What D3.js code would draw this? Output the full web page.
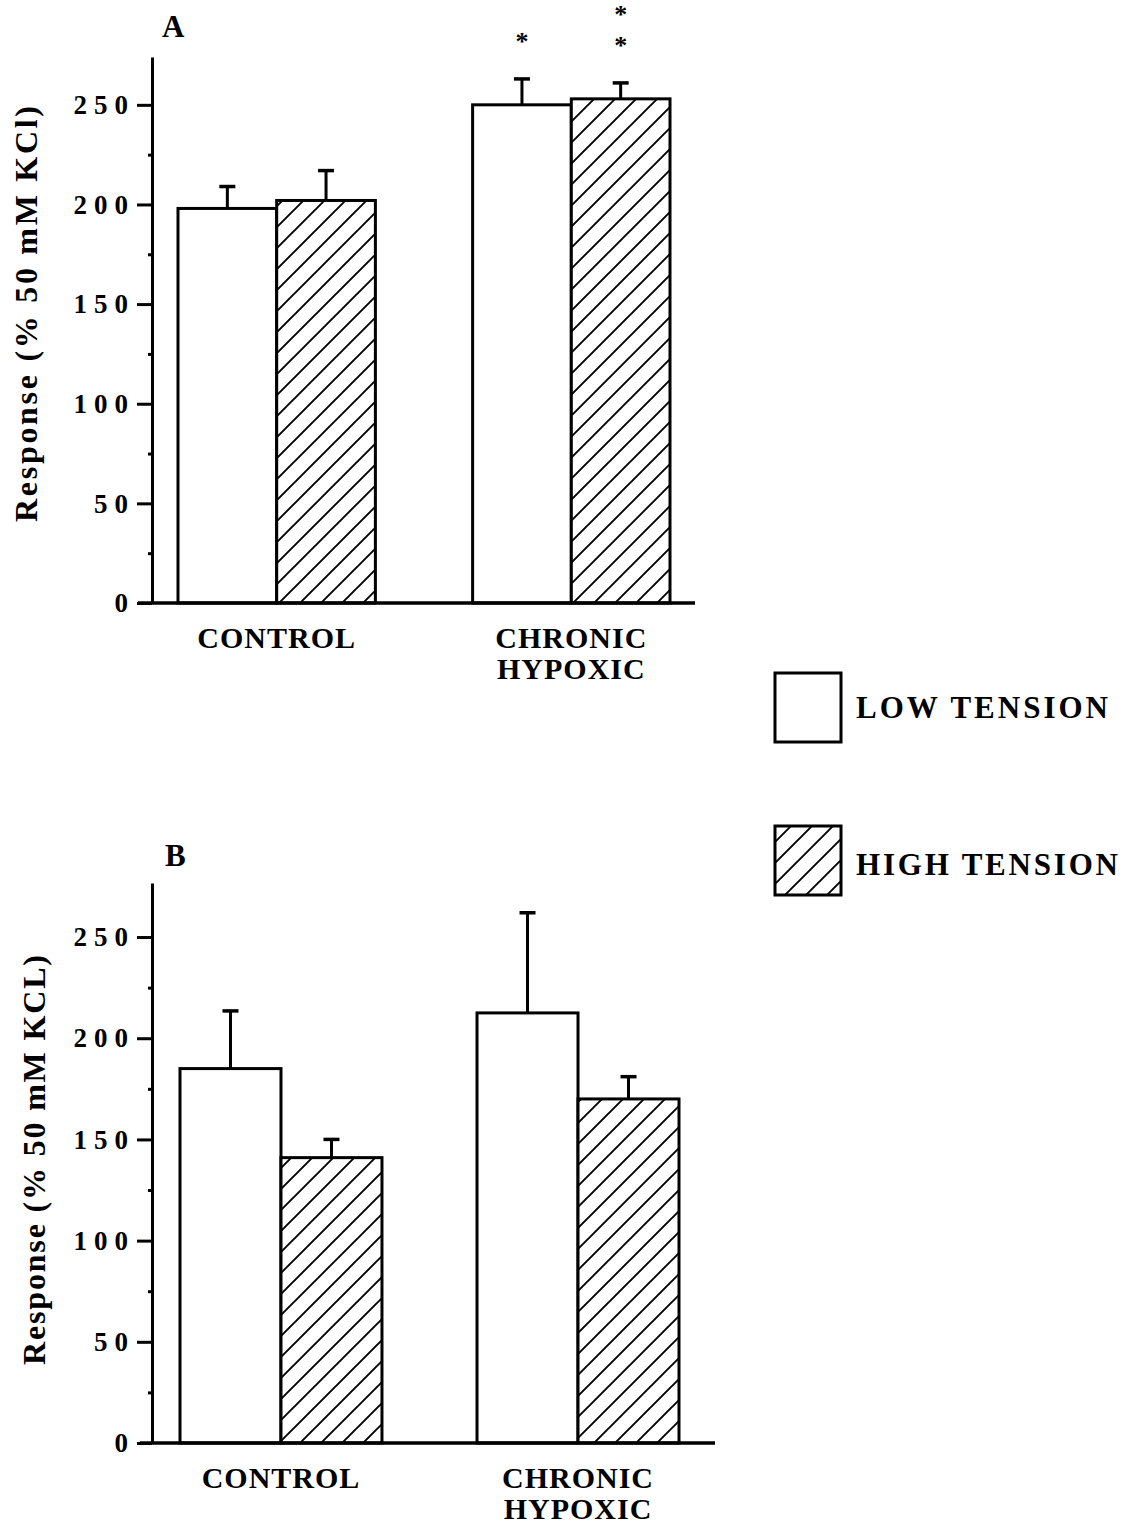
<!DOCTYPE html>
<html><head><meta charset="utf-8">
<script src="https://cdn.jsdelivr.net/npm/d3@7"></script>
<style>
body{margin:0;background:#fff}
text{font-family:"Liberation Serif","Times New Roman",serif;font-weight:bold;fill:#000}
</style>
</head><body><svg id="c" width="1139" height="1528"></svg>
<script>
// ---------- data ----------
const categories = ["CONTROL", "CHRONIC HYPOXIC"];
const seriesNames = ["LOW TENSION", "HIGH TENSION"];
const yTicks = [0, 50, 100, 150, 200, 250];
const yMinorTicks = [25, 75, 125, 175, 225];

// Panel A
const aLow = [198, 250];
const aLowErr = [11, 13];
const aHigh = [202, 253];
const aHighErr = [15, 8];
const aLowStars = [0, 1];
const aHighStars = [0, 2];

// Panel B
const bLow = [185, 212.5];
const bLowErr = [28.5, 49.5];
const bHigh = [141, 170];
const bHighErr = [9, 11];
const bLowStars = [0, 0];
const bHighStars = [0, 0];

// ---------- drawing ----------
const svg = d3.select("#c");
const defs = svg.append("defs");
const pat = defs.append("pattern").attr("id", "hatch")
  .attr("patternUnits", "userSpaceOnUse").attr("width", 21).attr("height", 21);
pat.append("rect").attr("width", 21).attr("height", 21).attr("fill", "#fff");
pat.append("path").attr("d", "M-2,2 L2,-2 M0,21 L21,0 M19,23 L23,19")
  .attr("stroke", "#000").attr("stroke-width", 1.9);

const panels = [
  { low: aLow, lowErr: aLowErr, high: aHigh, highErr: aHighErr, lowStars: aLowStars, highStars: aHighStars,
    top: 57, bottom: 603, yMax: 274, xLeft: 178, xRight: 670, pad: 0.33, axisX: 152, baseStart: 138, baseEnd: 695,
    title: "Response (% 50 mM KCl)", titleX: 37, titleC: 314, titleLen: 416,
    letter: "A", letterX: 162, letterY: 37, labelY: 648 },
  { low: bLow, lowErr: bLowErr, high: bHigh, highErr: bHighErr, lowStars: bLowStars, highStars: bHighStars,
    top: 883, bottom: 1443, yMax: 276.7, xLeft: 180, xRight: 679, pad: 0.32, axisX: 152, baseStart: 140, baseEnd: 715,
    title: "Response (% 50 mM KCL)", titleX: 45, titleC: 1160, titleLen: 410,
    letter: "B", letterX: 165, letterY: 866, labelY: 1488 }
];

panels.forEach(p => {
  const g = svg.append("g");
  const y = d3.scaleLinear().domain([0, p.yMax]).range([p.bottom, p.top]);
  const x0 = d3.scaleBand().domain(categories).range([p.xLeft, p.xRight]).paddingInner(p.pad).paddingOuter(0);
  const x1 = d3.scaleBand().domain(seriesNames).range([0, x0.bandwidth()]);

  const rows = [];
  categories.forEach((c, i) => {
    rows.push({ cat: c, s: seriesNames[0], v: p.low[i], e: p.lowErr[i], stars: p.lowStars[i], fill: "#fff" });
    rows.push({ cat: c, s: seriesNames[1], v: p.high[i], e: p.highErr[i], stars: p.highStars[i], fill: "url(#hatch)" });
  });

  // error bars (behind bars)
  rows.forEach(r => {
    const cx = x0(r.cat) + x1(r.s) + x1.bandwidth() / 2;
    g.append("line").attr("x1", cx).attr("x2", cx).attr("y1", y(r.v)).attr("y2", y(r.v + r.e))
      .attr("stroke", "#000").attr("stroke-width", 3);
    g.append("line").attr("x1", cx - 8).attr("x2", cx + 8).attr("y1", y(r.v + r.e)).attr("y2", y(r.v + r.e))
      .attr("stroke", "#000").attr("stroke-width", 3.5);
    for (let k = 0; k < r.stars; k++) {
      g.append("text").attr("x", cx).attr("y", y(r.v + r.e) - 40 - k * 31 + 11)
        .attr("text-anchor", "middle").style("font-size", "26px").text("*");
    }
  });

  g.selectAll("rect.bar").data(rows).join("rect").attr("class", "bar")
    .attr("x", r => x0(r.cat) + x1(r.s))
    .attr("width", x1.bandwidth())
    .attr("y", r => y(r.v))
    .attr("height", r => y(0) - y(r.v))
    .attr("fill", r => r.fill)
    .attr("stroke", "#000").attr("stroke-width", 3);

  // y axis
  const ax = g.append("g").attr("transform", `translate(${p.axisX},0)`)
    .call(d3.axisLeft(y).tickValues(yTicks).tickSize(15).tickPadding(2).tickSizeOuter(0));
  ax.select(".domain").attr("stroke-width", 3);
  ax.selectAll(".tick line").attr("stroke-width", 3);
  ax.selectAll(".tick text").style("font-size", "27px").style("letter-spacing", "7px").attr("fill", "#000");
  const axm = g.append("g").attr("transform", `translate(${p.axisX},0)`)
    .call(d3.axisLeft(y).tickValues(yMinorTicks).tickSize(4).tickFormat("").tickSizeOuter(0));
  axm.select(".domain").remove();
  axm.selectAll(".tick line").attr("stroke-width", 3);

  // baseline
  g.append("line").attr("x1", p.baseStart).attr("x2", p.baseEnd).attr("y1", y(0)).attr("y2", y(0))
    .attr("stroke", "#000").attr("stroke-width", 3.5);

  // category labels
  categories.forEach(c => {
    const cx = x0(c) + x0.bandwidth() / 2;
    c.split(" ").forEach((w, k) => {
      g.append("text").attr("x", cx).attr("y", p.labelY + k * 31).attr("text-anchor", "middle")
        .style("font-size", "30px").style("letter-spacing", "1px").text(w);
    });
  });

  // y title
  g.append("text").attr("transform", `translate(${p.titleX},${p.titleC}) rotate(-90)`)
    .attr("text-anchor", "middle").style("font-size", "32px")
    .attr("textLength", p.titleLen).attr("lengthAdjust", "spacing").text(p.title);

  // panel letter
  g.append("text").attr("x", p.letterX).attr("y", p.letterY).style("font-size", "31px").text(p.letter);
});

// legend
const legY = [673, 826];
const legText = [718, 875];
const legLen = [252, 262];
seriesNames.forEach((s, i) => {
  svg.append("rect").attr("x", 775).attr("y", legY[i]).attr("width", 66).attr("height", 69)
    .attr("fill", i === 0 ? "#fff" : "url(#hatch)").attr("stroke", "#000").attr("stroke-width", 3);
  svg.append("text").attr("x", 856).attr("y", legText[i]).style("font-size", "31px")
    .attr("textLength", legLen[i]).attr("lengthAdjust", "spacing").text(s);
});
</script>
</body></html>
